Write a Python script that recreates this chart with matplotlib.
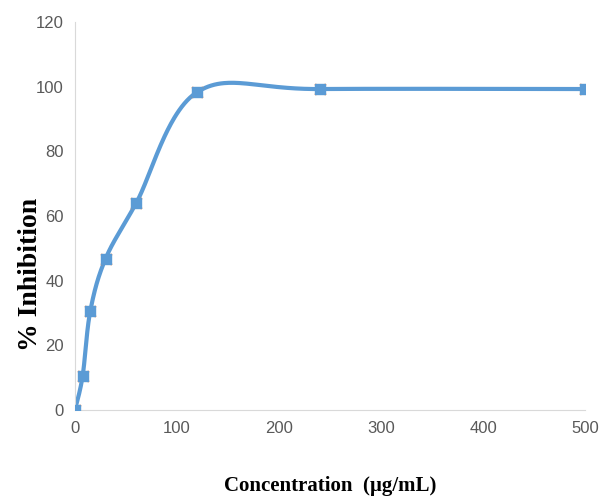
import numpy as np
import matplotlib.pyplot as plt
from matplotlib import font_manager

# data
conc = [0, 7.5, 15, 30, 60, 120, 240, 500]
inhibition = [0, 10.5, 30.6, 46.8, 64.0, 98.4, 99.3, 99.3]
x_ticks = [0, 100, 200, 300, 400, 500]
y_ticks = [0, 20, 40, 60, 80, 100, 120]


# Excel-style smoothed line (Catmull-Rom through the points, in screen units)
def smooth_line(xs, ys, xspan, yspan, n=60):
    px = np.array(xs) / xspan
    py = np.array(ys) / yspan
    pts = np.column_stack([px, py])
    pts = np.vstack([pts[0], pts, pts[-1]])
    out = []
    for i in range(1, len(pts) - 2):
        p0, p1, p2, p3 = pts[i - 1], pts[i], pts[i + 1], pts[i + 2]
        c1 = p1 + (p2 - p0) / 6
        c2 = p2 - (p3 - p1) / 6
        t = np.linspace(0, 1, n)[:, None]
        seg = ((1 - t) ** 3) * p1 + 3 * ((1 - t) ** 2) * t * c1 \
            + 3 * (1 - t) * t ** 2 * c2 + t ** 3 * p2
        out.append(seg)
    out = np.vstack(out)
    return out[:, 0] * xspan, out[:, 1] * yspan


names = {f.name for f in font_manager.fontManager.ttflist}
tick_font = 'Liberation Sans Narrow' if 'Liberation Sans Narrow' in names else 'Liberation Sans'

fig = plt.figure(figsize=(6, 5.04), dpi=100)
ax = fig.add_axes([0.125, 0.187, 0.85, 0.769])

sx, sy = smooth_line(conc, inhibition, 500, 120 / 0.76)
ax.plot(sx, sy, color='#5B9BD5', lw=3, zorder=2)
ax.scatter(conc, inhibition, marker='x', s=60, color='#ED7D31', lw=1.5, zorder=3)
ax.scatter(conc, inhibition, marker='s', s=55, color='#5B9BD5', zorder=4)

ax.set_xlim(0, 500)
ax.set_ylim(0, 120)
ax.set_xticks(x_ticks)
ax.set_yticks(y_ticks)
ax.tick_params(length=0, colors='#595959', labelsize=12, pad=8)
for lab in ax.get_xticklabels() + ax.get_yticklabels():
    lab.set_family(tick_font)

for s in ['top', 'right']:
    ax.spines[s].set_visible(False)
for s in ['left', 'bottom']:
    ax.spines[s].set_color('#D9D9D9')

ax.set_xlabel('Concentration  (µg/mL)', family='Liberation Serif', weight='bold',
              fontsize=15)
ax.set_ylabel('% Inhibition', family='Liberation Serif', weight='bold',
              fontsize=20)
ax.xaxis.set_label_coords(0.5, -0.17)
ax.yaxis.set_label_coords(-0.062, 0.35)

fig.savefig('out.png')
